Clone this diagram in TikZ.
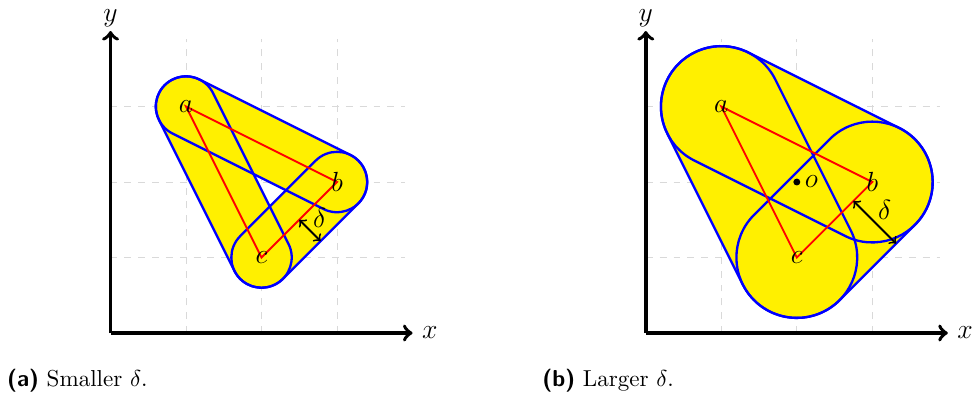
\documentclass[tikz,border=0pt]{standalone}
\usetikzlibrary{calc}
\definecolor{fillyel}{RGB}{255,240,0}
% 线段 #2--#3 的胶囊形邻域，半径 #4
\newcommand{\capsule}[4][]{%
  \path[#1] let \p1=($(#3)-(#2)$), \n1={atan2(\y1,\x1)} in
    ($(#2)+(\n1+90:#4)$) -- ($(#3)+(\n1+90:#4)$)
    arc[start angle=\n1+90, end angle=\n1-90, radius=#4]
    -- ($(#2)+(\n1-90:#4)$)
    arc[start angle=\n1-90, end angle=\n1-270, radius=#4] -- cycle;}

\begin{document}
\begin{tikzpicture}[x=1.15cm, y=1.15cm,
    axis/.style={->, ultra thick},
    gridline/.style={dashed, gray!30, thin, step=1.15cm},
    tube/.style={draw=blue, line width=1pt},
    tri/.style={red, thick},
    lbl/.style={font=\large}]
				\useasboundingbox (-1.464,-0.874) rectangle (11.437,4.411);
				
				% ===== (a) 较小的 delta =====
				% 辅助虚线
				\draw[gridline] (0,0) grid (3.9,3.9);
				
				% 坐标轴
				\coordinate (O1) at (0,0);
				\coordinate (X1) at (4,0);
				\coordinate (Y1) at (0,4);
				\draw[axis] (O1) -- (X1) node[lbl, right] (xl1) {$x$};
				\draw[axis] (O1) -- (Y1) node[lbl, above, inner sep=1pt] (yl1) {$y$};
				
				% 三个点
				\coordinate (a1) at (1,3);
				\coordinate (b1) at (3,2);
				\coordinate (c1) at (2,1);
				
				% 邻域填充与轮廓
				\foreach \pa/\pb in {a1/b1, b1/c1, c1/a1} {\capsule[fill=fillyel]{\pa}{\pb}{0.4}}
				\foreach \pa/\pb in {a1/b1, b1/c1, c1/a1} {\capsule[tube]{\pa}{\pb}{0.4}}
				
				% 三角形
				\draw[tri] (a1) -- (b1) -- (c1) -- cycle;
				\node[lbl] (la1) at (a1) {$a$};
				\node[lbl] (lb1) at (b1) {$b$};
				\node[lbl] (lc1) at (c1) {$c$};
				
				% delta
				\coordinate (d1) at ($(c1)!0.5!(b1)$);
				\coordinate (e1) at ($(d1)+(-45:0.4)$);
				\draw[<->, thick] (d1) -- (e1) node[lbl, midway, above right, inner sep=1pt] (dl1) {$\delta$};
				
				\node[anchor=base west, inner sep=0pt] (cap1) at (-1.375,-0.71) {\textsf{\textbf{(a)}} Smaller $\delta$.};
				
				% ===== (b) 较大的 delta =====
				\begin{scope}[xshift=7.09*1.15cm]
				% 辅助虚线
				\draw[gridline] (0,0) grid (3.9,3.9);
				
				% 坐标轴
				\coordinate (O2) at (0,0);
				\coordinate (X2) at (4,0);
				\coordinate (Y2) at (0,4);
				\draw[axis] (O2) -- (X2) node[lbl, right] (xl2) {$x$};
				\draw[axis] (O2) -- (Y2) node[lbl, above, inner sep=1pt] (yl2) {$y$};
				
				% 三个点
				\coordinate (a2) at (1,3);
				\coordinate (b2) at (3,2);
				\coordinate (c2) at (2,1);
				
				% 邻域填充与轮廓
				\foreach \pa/\pb in {a2/b2, b2/c2, c2/a2} {\capsule[fill=fillyel]{\pa}{\pb}{0.8}}
				\foreach \pa/\pb in {a2/b2, b2/c2, c2/a2} {\capsule[tube]{\pa}{\pb}{0.8}}
				
				% 三角形
				\draw[tri] (a2) -- (b2) -- (c2) -- cycle;
				\node[lbl] (la2) at (a2) {$a$};
				\node[lbl] (lb2) at (b2) {$b$};
				\node[lbl] (lc2) at (c2) {$c$};
				
				% 中心点 o
				\fill (2,2) circle (1.5pt) node[lbl, right] (lo2) {$o$};
				
				% delta
				\coordinate (d2) at ($(c2)!0.75!(b2)$);
				\coordinate (e2) at ($(d2)+(-45:0.8)$);
				\draw[<->, thick] (d2) -- (e2) node[lbl, midway, above right, inner sep=1pt] (dl2) {$\delta$};
				
				\node[anchor=base west, inner sep=0pt] (cap2) at (-1.375,-0.71) {\textsf{\textbf{(b)}} Larger $\delta$.};
				\end{scope}
\end{tikzpicture}
\end{document}
